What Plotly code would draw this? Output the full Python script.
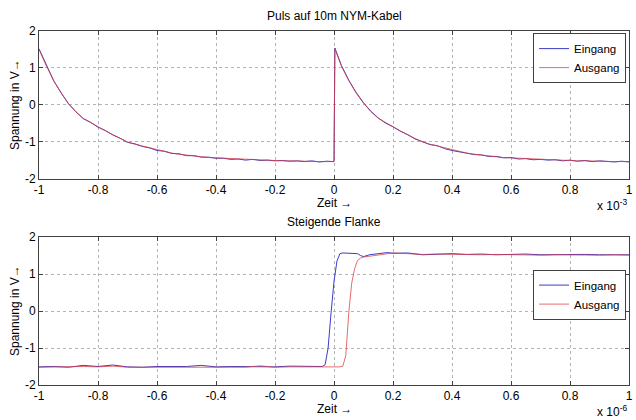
import plotly.graph_objects as go

# ---- data (top: time in 1e-3 s, bottom: time in 1e-6 s) ----
puls_t = [-1.000, -0.975, -0.950, -0.925, -0.900, -0.875, -0.850, -0.825, -0.800, -0.775,
          -0.750, -0.725, -0.700, -0.675, -0.650, -0.625, -0.600, -0.575, -0.550, -0.525,
          -0.500, -0.475, -0.450, -0.425, -0.400, -0.375, -0.350, -0.325, -0.300, -0.275,
          -0.250, -0.225, -0.200, -0.175, -0.150, -0.125, -0.100, -0.075, -0.050, -0.025,
          0.000, 0.003, 0.025, 0.050, 0.075, 0.100, 0.125, 0.150, 0.175, 0.200,
          0.225, 0.250, 0.275, 0.300, 0.325, 0.350, 0.375, 0.400, 0.425, 0.450,
          0.475, 0.500, 0.525, 0.550, 0.575, 0.600, 0.625, 0.650, 0.675, 0.700,
          0.725, 0.750, 0.775, 0.800, 0.825, 0.850, 0.875, 0.900, 0.925, 0.950,
          0.975, 1.000]
puls_ein = [1.52, 1.06, 0.65, 0.33, 0.03, -0.18, -0.37, -0.47, -0.60, -0.69,
            -0.81, -0.90, -1.01, -1.05, -1.12, -1.16, -1.23, -1.25, -1.31, -1.32,
            -1.37, -1.37, -1.41, -1.41, -1.44, -1.44, -1.47, -1.46, -1.49, -1.47,
            -1.50, -1.49, -1.51, -1.50, -1.52, -1.51, -1.53, -1.51, -1.54, -1.52,
            -1.53, 1.54, 1.07, 0.67, 0.34, 0.06, -0.17, -0.35, -0.49, -0.59,
            -0.71, -0.80, -0.92, -0.99, -1.07, -1.10, -1.18, -1.23, -1.27, -1.29,
            -1.34, -1.35, -1.39, -1.39, -1.43, -1.42, -1.46, -1.45, -1.48, -1.47,
            -1.49, -1.48, -1.51, -1.49, -1.52, -1.50, -1.53, -1.51, -1.52, -1.54,
            -1.52, -1.54]
puls_aus = [1.50, 1.05, 0.66, 0.32, 0.04, -0.19, -0.36, -0.48, -0.59, -0.70,
            -0.80, -0.91, -1.00, -1.06, -1.11, -1.17, -1.22, -1.26, -1.30, -1.33,
            -1.36, -1.38, -1.40, -1.42, -1.43, -1.45, -1.46, -1.47, -1.48, -1.48,
            -1.49, -1.50, -1.50, -1.51, -1.51, -1.52, -1.52, -1.52, -1.53, -1.53,
            -1.53, 1.52, 1.05, 0.66, 0.32, 0.05, -0.18, -0.36, -0.48, -0.58,
            -0.70, -0.81, -0.91, -1.00, -1.06, -1.11, -1.17, -1.22, -1.26, -1.30,
            -1.33, -1.36, -1.38, -1.40, -1.42, -1.43, -1.45, -1.46, -1.47, -1.48,
            -1.48, -1.49, -1.50, -1.50, -1.51, -1.51, -1.52, -1.52, -1.52, -1.53,
            -1.53, -1.53]

flanke_t = [-1.00, -0.95, -0.90, -0.85, -0.80, -0.75, -0.70, -0.65, -0.60, -0.55,
            -0.50, -0.45, -0.40, -0.35, -0.30, -0.25, -0.20, -0.15, -0.10, -0.05,
            -0.04, -0.03, -0.02, -0.01, 0.00, 0.01, 0.02, 0.03, 0.04, 0.05,
            0.06, 0.07, 0.08, 0.09, 0.10, 0.12, 0.14, 0.16, 0.18, 0.20,
            0.25, 0.30, 0.35, 0.40, 0.45, 0.50, 0.55, 0.60, 0.65, 0.70,
            0.75, 0.80, 0.85, 0.90, 0.95, 1.00]
flanke_ein = [-1.51, -1.50, -1.52, -1.47, -1.50, -1.46, -1.51, -1.52, -1.50, -1.51,
              -1.50, -1.47, -1.51, -1.50, -1.51, -1.50, -1.51, -1.49, -1.50, -1.51,
              -1.50, -1.45, -1.00, -0.05, 0.80, 1.35, 1.55, 1.57, 1.57, 1.56,
              1.57, 1.56, 1.55, 1.50, 1.47, 1.52, 1.54, 1.55, 1.58, 1.56,
              1.57, 1.52, 1.54, 1.55, 1.53, 1.54, 1.52, 1.53, 1.54, 1.52,
              1.53, 1.52, 1.53, 1.52, 1.51, 1.52]
flanke_aus = [-1.52, -1.51, -1.52, -1.50, -1.51, -1.49, -1.52, -1.52, -1.51, -1.52,
              -1.51, -1.50, -1.52, -1.51, -1.52, -1.48, -1.52, -1.51, -1.51, -1.52,
              -1.51, -1.52, -1.51, -1.52, -1.50, -1.51, -1.51, -1.49, -1.20, -0.05,
              0.75, 1.15, 1.37, 1.43, 1.46, 1.48, 1.50, 1.52, 1.54, 1.57,
              1.55, 1.53, 1.54, 1.53, 1.54, 1.52, 1.53, 1.52, 1.53, 1.51,
              1.52, 1.51, 1.52, 1.51, 1.52, 1.51]

x_ticks = [-1, -0.8, -0.6, -0.4, -0.2, 0, 0.2, 0.4, 0.6, 0.8, 1]
x_labels = ["-1", "-0.8", "-0.6", "-0.4", "-0.2", "0", "0.2", "0.4", "0.6", "0.8", "1"]
y_ticks = [-2, -1, 0, 1, 2]
y_labels = ["-2", "-1", "0", "1", "2"]

BLUE = "#3c3cc8"
RED = "#e03c3c"
FONT = "Liberation Sans, Arial, sans-serif"

fig = go.Figure()
fig.add_trace(go.Scatter(x=puls_t, y=puls_ein, mode="lines", name="Eingang",
                         line=dict(color=BLUE, width=1), xaxis="x", yaxis="y", legend="legend"))
fig.add_trace(go.Scatter(x=puls_t, y=puls_aus, mode="lines", name="Ausgang",
                         line=dict(color=RED, width=1), opacity=0.75, xaxis="x", yaxis="y", legend="legend"))
fig.add_trace(go.Scatter(x=flanke_t, y=flanke_ein, mode="lines", name="Eingang",
                         line=dict(color=BLUE, width=1), xaxis="x2", yaxis="y2", legend="legend2"))
fig.add_trace(go.Scatter(x=flanke_t, y=flanke_aus, mode="lines", name="Ausgang",
                         line=dict(color=RED, width=1), opacity=0.75, xaxis="x2", yaxis="y2", legend="legend2"))

ax = dict(showline=True, linecolor="#404040", linewidth=1, mirror="ticks",
          ticks="inside", ticklen=4, tickcolor="#404040",
          showgrid=True, gridcolor="#b4b4b4", griddash="dot", gridwidth=1,
          zeroline=False, tickfont=dict(size=12, color="black"),
          ticklabeloverflow="allow")

legend_style = dict(bgcolor="white", bordercolor="#404040", borderwidth=1,
                    font=dict(size=11.5, color="black"), itemwidth=30,
                    xanchor="right", yanchor="top", tracegroupgap=0)

fig.update_layout(
    width=636, height=420,
    margin=dict(l=39, r=3, t=31, b=35),
    paper_bgcolor="white", plot_bgcolor="white",
    font=dict(family=FONT, size=12, color="black"),
    xaxis=dict(ax, domain=[0, 1], range=[-1, 1], tickvals=x_ticks, ticktext=x_labels, anchor="y"),
    yaxis=dict(ax, domain=[0.582, 1], range=[-2, 2], tickvals=y_ticks, ticktext=y_labels, anchor="x"),
    xaxis2=dict(ax, domain=[0, 1], range=[-1, 1], tickvals=x_ticks, ticktext=x_labels, anchor="y2"),
    yaxis2=dict(ax, domain=[0, 0.418], range=[-2, 2], tickvals=y_ticks, ticktext=y_labels, anchor="x2"),
    legend=dict(legend_style, x=0.995, y=0.994),
    legend2=dict(legend_style, x=0.995, y=0.326),
    showlegend=True,
)

annots = [
    dict(text="Puls auf 10m NYM-Kabel", x=0.5, y=1.0, yshift=6, yanchor="bottom"),
    dict(text="Steigende Flanke", x=0.5, y=0.418, yshift=6, yanchor="bottom"),
    dict(text="Zeit \u2192", x=0.5, y=0.582, yshift=-15, yanchor="top"),
    dict(text="Zeit \u2192", x=0.5, y=0.0, yshift=-15, yanchor="top"),
    dict(text="x 10<sup>-3</sup>", x=1.0, y=0.582, yshift=-16, yanchor="top", xanchor="right"),
    dict(text="x 10<sup>-6</sup>", x=1.0, y=0.0, yshift=-16, yanchor="top", xanchor="right"),
    dict(text="Spannung in V\u2192", x=0, xshift=-24, y=0.791, textangle=-90),
    dict(text="Spannung in V\u2192", x=0, xshift=-24, y=0.209, textangle=-90),
]
for a in annots:
    a.setdefault("xanchor", "center")
    a.setdefault("yanchor", "middle")
    fig.add_annotation(xref="paper", yref="paper", showarrow=False,
                       font=dict(size=12, color="black"), **a)

fig.write_html("out.html", config={"displayModeBar": False},
               post_script="document.body.style.margin='0';")
